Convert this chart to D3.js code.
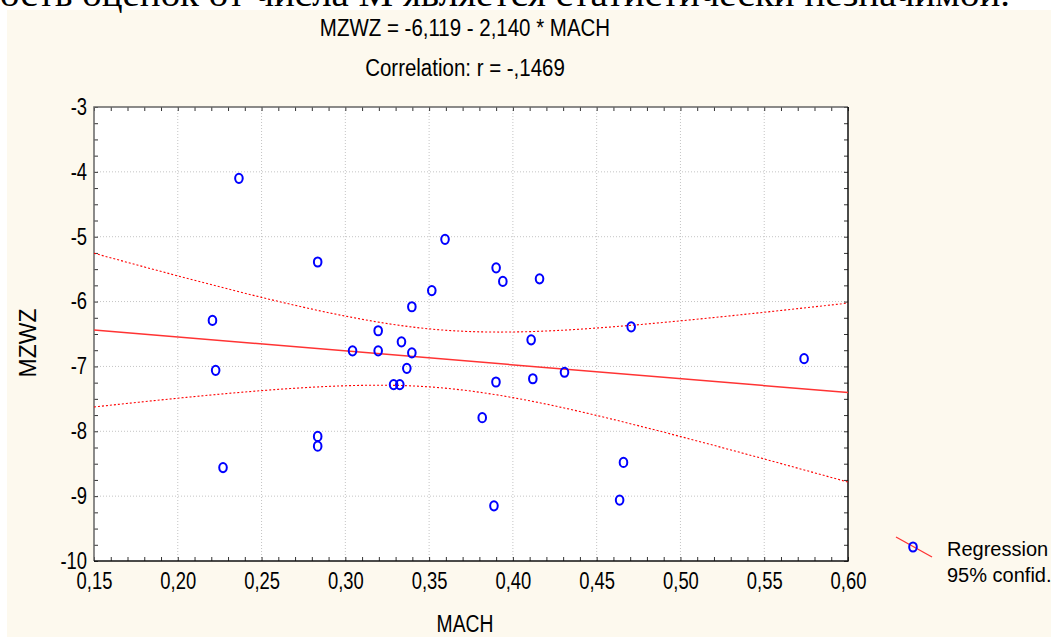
<!DOCTYPE html>
<html>
<head>
<meta charset="utf-8">
<script src="https://cdn.jsdelivr.net/npm/d3@7"></script>
<style>
  body { margin: 0; background: #fff; }
  text { font-family: "Liberation Sans", Arial, sans-serif; fill: #000; }
</style>
</head>
<body>
<div id="chart"></div>
<script>
// scatter points
const mach = [0.2365, 0.2835, 0.2207, 0.2226, 0.2835, 0.2835, 0.2270, 0.3595, 0.3516, 0.3397,
              0.3196, 0.3335, 0.3043, 0.3196, 0.3397, 0.3367, 0.3288, 0.3325, 0.3900, 0.3940,
              0.4159, 0.4109, 0.4706, 0.3899, 0.4119, 0.4308, 0.3817, 0.4660, 0.4637, 0.3887,
              0.5738];
const mzwz = [-4.10, -5.39, -6.29, -7.06, -8.08, -8.23, -8.56, -5.04, -5.83, -6.08,
              -6.45, -6.62, -6.76, -6.76, -6.79, -7.03, -7.28, -7.28, -5.48, -5.69,
              -5.65, -6.59, -6.39, -7.24, -7.19, -7.09, -7.79, -8.48, -9.06, -9.15,
              -6.88];

// regression line (from the equation in the title) and 95% band
const regX = [0.15, 0.60];
const regY = [-6.440, -7.403];
const bandX = [0.15, 0.20, 0.25, 0.30, 0.35, 0.40, 0.45, 0.50, 0.55, 0.60];
const bandUpper = [-5.255, -5.604, -5.935, -6.224, -6.421, -6.469, -6.408, -6.297, -6.165, -6.023];
const bandLower = [-7.625, -7.490, -7.373, -7.298, -7.315, -7.481, -7.756, -8.081, -8.427, -8.783];

const xTicks = [0.15, 0.20, 0.25, 0.30, 0.35, 0.40, 0.45, 0.50, 0.55, 0.60];
const yTicks = [-10, -9, -8, -7, -6, -5, -4, -3];
const xMinor = d3.range(15, 61).map(d => d / 100);
const yMinor = d3.range(-40, -11).map(d => d / 4);

const titleLines = ["MZWZ = -6,119 - 2,140 * MACH", "Correlation: r = -,1469"];
const legendLabels = ["Regression", "95% confid."];

const W = 1051, H = 637;
const plot = { left: 94, right: 848, top: 107, bottom: 561 };

const locale = d3.formatLocale({ decimal: ",", thousands: " ", grouping: [3], currency: ["", ""], minus: "-" });

// squeeze text horizontally (the original uses a narrow face)
function condense(sel, k) {
  sel.each(function () {
    const len = this.getComputedTextLength();
    d3.select(this).attr("textLength", len * k).attr("lengthAdjust", "spacingAndGlyphs");
  });
}

const svg = d3.select("#chart").append("svg")
  .attr("width", W).attr("height", H);

// cream panel
svg.append("rect").attr("x", 7).attr("y", 10).attr("width", W - 7).attr("height", H - 10)
   .attr("fill", "#fdf9ee");

// cut-off document text at the top
svg.append("text")
   .attr("x", 0).attr("y", 6)
   .attr("textLength", 1010).attr("lengthAdjust", "spacingAndGlyphs")
   .style("font-family", "'Liberation Serif', 'Times New Roman', serif")
   .style("font-size", "36px")
   .text("ость оценок от числа M является статистически незначимой.");

const x = d3.scaleLinear([0.15, 0.60], [plot.left, plot.right]);
const y = d3.scaleLinear([-10, -3], [plot.bottom, plot.top]);

svg.append("rect")
   .attr("x", plot.left).attr("y", plot.top)
   .attr("width", plot.right - plot.left).attr("height", plot.bottom - plot.top)
   .attr("fill", "#fff");

// grid
const grid = svg.append("g").attr("stroke", "#c4c4c4").attr("stroke-dasharray", "1,2");
grid.selectAll("line.v").data(xTicks.slice(1, -1)).join("line")
    .attr("x1", d => x(d)).attr("x2", d => x(d))
    .attr("y1", plot.top).attr("y2", plot.bottom);
grid.selectAll("line.h").data(yTicks.slice(1, -1)).join("line")
    .attr("y1", d => y(d)).attr("y2", d => y(d))
    .attr("x1", plot.left).attr("x2", plot.right);

// inward ticks on all four sides
const tickLen = 4;
const noLabel = g => g.call(g => g.select(".domain").remove()).selectAll("text").remove();
svg.append("g").attr("transform", `translate(0,${plot.bottom})`)
   .call(d3.axisBottom(x).tickValues(xMinor).tickSize(-tickLen).tickFormat("")).call(noLabel);
svg.append("g").attr("transform", `translate(0,${plot.top})`)
   .call(d3.axisTop(x).tickValues(xMinor).tickSize(-tickLen).tickFormat("")).call(noLabel);
svg.append("g").attr("transform", `translate(${plot.left},0)`)
   .call(d3.axisLeft(y).tickValues(yMinor).tickSize(-tickLen).tickFormat("")).call(noLabel);
svg.append("g").attr("transform", `translate(${plot.right},0)`)
   .call(d3.axisRight(y).tickValues(yMinor).tickSize(-tickLen).tickFormat("")).call(noLabel);
svg.selectAll(".tick line").attr("stroke", "#333");

// tick labels
svg.append("g").attr("transform", `translate(0,${plot.bottom})`)
   .call(d3.axisBottom(x).tickValues(xTicks).tickSize(0).tickPadding(12).tickFormat(locale.format(".2f")))
   .call(g => g.select(".domain").remove())
   .selectAll("text").style("font-size", "23px").style("font-family", "'Liberation Sans', Arial, sans-serif")
   .attr("fill", "#000").call(condense, 0.8);
svg.append("g").attr("transform", `translate(${plot.left},0)`)
   .call(d3.axisLeft(y).tickValues(yTicks).tickSize(0).tickPadding(7).tickFormat(locale.format("d")))
   .call(g => g.select(".domain").remove())
   .selectAll("text").style("font-size", "23px").style("font-family", "'Liberation Sans', Arial, sans-serif")
   .attr("fill", "#000").call(condense, 0.8);

// frame
svg.append("path")
   .attr("d", `M${plot.left},${plot.bottom}V${plot.top}H${plot.right}`)
   .attr("fill", "none").attr("stroke", "#666").attr("stroke-width", 1.5);
svg.append("path")
   .attr("d", `M${plot.left},${plot.bottom}H${plot.right}V${plot.top}`)
   .attr("fill", "none").attr("stroke", "#111").attr("stroke-width", 1.5);

// confidence bands
const band = d3.line().x((d, i) => x(bandX[i])).y(d => y(d)).curve(d3.curveNatural);
[bandUpper, bandLower].forEach(b => {
  svg.append("path").attr("d", band(b))
     .attr("fill", "none").attr("stroke", "#f00").attr("stroke-width", 1.1)
     .attr("stroke-dasharray", "2,2");
});

// regression line
svg.append("path")
   .attr("d", d3.line().x((d, i) => x(regX[i])).y(d => y(d))(regY))
   .attr("fill", "none").attr("stroke", "#f33").attr("stroke-width", 1.5);

// points
svg.append("g").selectAll("ellipse")
   .data(d3.range(mach.length))
   .join("ellipse")
   .attr("cx", i => x(mach[i]))
   .attr("cy", i => y(mzwz[i]))
   .attr("rx", 3.8).attr("ry", 4.6)
   .attr("fill", "none").attr("stroke", "#00f").attr("stroke-width", 2);

// titles
svg.selectAll("text.title").data(titleLines).join("text")
   .attr("class", "title")
   .attr("x", 465).attr("y", (d, i) => 36 + i * 40)
   .attr("text-anchor", "middle")
   .style("font-size", "23px")
   .text(d => d)
   .call(condense, 0.89);

svg.append("text")
   .attr("x", 465).attr("y", 632)
   .attr("text-anchor", "middle")
   .style("font-size", "23px")
   .text("MACH")
   .call(condense, 0.84);

svg.append("text")
   .attr("transform", "translate(36,343) rotate(-90)")
   .attr("text-anchor", "middle")
   .style("font-size", "23px")
   .text("MZWZ");

// legend
const lg = svg.append("g");
lg.append("line").attr("x1", 896).attr("y1", 537).attr("x2", 932).attr("y2", 557)
  .attr("stroke", "#f33").attr("stroke-width", 1.3);
lg.append("ellipse").attr("cx", 913).attr("cy", 547).attr("rx", 3.8).attr("ry", 4.6)
  .attr("fill", "none").attr("stroke", "#00f").attr("stroke-width", 2);
lg.selectAll("text").data(legendLabels).join("text")
  .attr("x", 947).attr("y", (d, i) => 556 + i * 26)
  .style("font-size", "20px")
  .text(d => d);
</script>
</body>
</html>
